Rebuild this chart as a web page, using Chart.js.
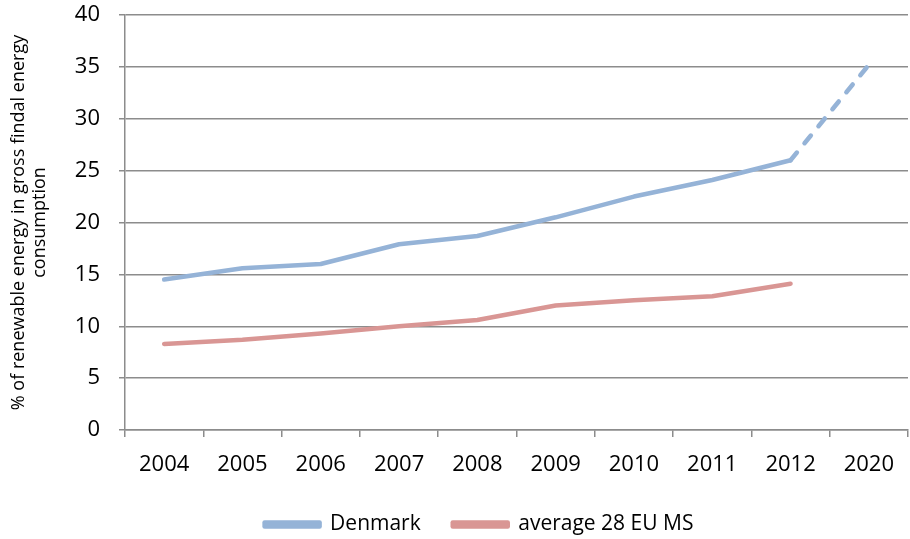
<!DOCTYPE html>
<html>
<head>
<meta charset="utf-8">
<script src="https://cdn.jsdelivr.net/npm/chart.js@4/dist/chart.umd.min.js"></script>
<style>
  html, body { margin: 0; padding: 0; background: #fff; }
  #wrap { width: 910px; height: 539px; position: relative; }
</style>
</head>
<body>
<div id="wrap"><canvas id="c" width="910" height="539"></canvas></div>
<script>
// Share of renewable energy in gross final energy consumption (%)
const years = ['2004', '2005', '2006', '2007', '2008', '2009', '2010', '2011', '2012', '2020'];
const denmark = [14.5, 15.6, 16.0, 17.9, 18.7, 20.5, 22.5, 24.1, 26.0, 35.2];
const euAverage = [8.3, 8.7, 9.3, 10.0, 10.6, 12.0, 12.5, 12.9, 14.1, null];
const yTicks = [0, 5, 10, 15, 20, 25, 30, 35, 40];
const yTitle = ['% of renewable energy in gross findal energy', 'consumption'];

const FONT = '"Open Sans", Lato, sans-serif';
const BLUE = '#95B3D7';
const RED = '#D99694';
const GRID = '#8C8C8C';

// nudge the legend so it sits a little right of the canvas centre
const legendShift = {
  id: 'legendShift',
  afterLayout(chart) {
    const lg = chart.legend;
    if (lg) { lg.left += 25; lg.right += 25; }
  }
};

new Chart(document.getElementById('c'), {
  type: 'line',
  data: {
    labels: years,
    datasets: [
      {
        label: 'Denmark',
        data: denmark,
        borderColor: BLUE,
        backgroundColor: BLUE,
        borderWidth: 4.5,
        borderCapStyle: 'round',
        borderJoinStyle: 'round',
        pointRadius: 0,
        tension: 0,
        // the 2012 -> 2020 target segment is dashed
        segment: {
          borderDash: ctx => ctx.p1DataIndex === years.length - 1 ? [10, 12] : undefined
        }
      },
      {
        label: 'average 28 EU MS',
        data: euAverage,
        borderColor: RED,
        backgroundColor: RED,
        borderWidth: 4.5,
        borderCapStyle: 'round',
        borderJoinStyle: 'round',
        pointRadius: 0,
        tension: 0
      }
    ]
  },
  plugins: [legendShift],
  options: {
    responsive: false,
    animation: false,
    layout: { padding: { top: 15, right: 2, left: 0, bottom: -6 } },
    plugins: {
      tooltip: { enabled: false },
      legend: {
        position: 'bottom',
        labels: {
          color: '#000',
          font: { family: FONT, size: 21 },
          boxWidth: 55,
          boxHeight: 4,
          padding: 32
        }
      }
    },
    scales: {
      x: {
        offset: true,
        border: { color: GRID, width: 1.5 },
        grid: {
          offset: true,
          drawOnChartArea: false,
          color: GRID,
          lineWidth: 1.5,
          tickLength: 7
        },
        ticks: {
          color: '#000',
          font: { family: FONT, size: 22 },
          padding: 15,
          maxRotation: 0
        },
        afterFit: s => { s.height = 52; }
      },
      y: {
        min: 0,
        max: 40,
        afterBuildTicks: s => { s.ticks = yTicks.map(v => ({ value: v })); },
        border: { color: GRID, width: 1.5 },
        grid: {
          color: GRID,
          lineWidth: 1.5,
          tickLength: 6
        },
        ticks: {
          color: '#000',
          font: { family: FONT, size: 22 },
          padding: 19
        },
        title: {
          display: true,
          text: yTitle,
          color: '#000',
          font: { family: FONT, size: 18, lineHeight: 1.15 },
          padding: { top: 9, bottom: 4 }
        },
        afterFit: s => {
          s.width = 125;
          // the top/bottom tick labels may overhang the plot area
          s.paddingTop = 0;
          s.paddingBottom = 0;
        }
      }
    }
  }
});
</script>
</body>
</html>
